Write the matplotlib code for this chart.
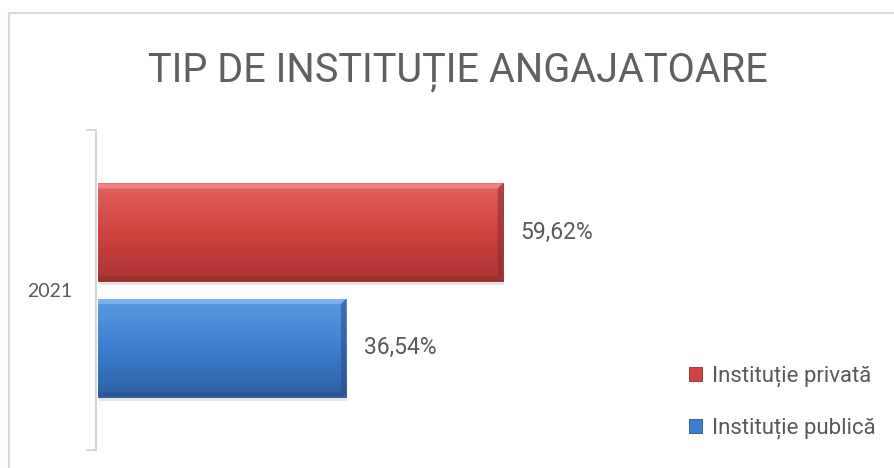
import matplotlib
matplotlib.use('Agg')
import matplotlib.pyplot as plt
import numpy as np
from matplotlib.patches import Rectangle, Polygon
from matplotlib.colors import LinearSegmentedColormap

# data
categories = ['2021']
series = ['Instituție privată', 'Instituție publică']
values = [59.62, 36.54]
value_labels = ['59,62%', '36,54%']

colors = ['#cf4340', '#3d7ecf']
grad = [['#e0625e', '#cf4340', '#ab3533'], ['#5a9ae3', '#3d7ecf', '#2e61a4']]
edge_dark = ['#8e2b2a', '#274e86']
edge_light = ['#ee8c88', '#86b8ee']

text_col = '#595959'
W, H = 894, 468

fig = plt.figure(figsize=(W / 100, H / 100), dpi=100)
ax = fig.add_axes([96 / W, 1 - 450 / H, 543 / W, 320 / H])

xmax = 80
bar_h = 0.305
gap = 0.056
offsets = [(bar_h + gap) / 2, -(bar_h + gap) / 2]

px_x = (543 / xmax)          # pixels per value unit
px_y = 320                   # pixels per category unit
bx, by = 5 / px_x, 5 / px_y

bars = []
for i, (name, v) in enumerate(zip(series, values)):
    y = 0 + offsets[i]
    b = ax.barh(y, v, height=bar_h, left=0.3, color=colors[i], label=name,
                edgecolor=edge_dark[i], linewidth=0.6, zorder=3)
    bars.append(b)
    r = b[0]
    x0, y0 = r.get_x(), r.get_y()
    x1, y1 = x0 + r.get_width(), y0 + r.get_height()
    # shadow
    ax.add_patch(Rectangle((x0 + 1 / px_x, y0 - 4 / px_y), r.get_width(), r.get_height(),
                           color='black', alpha=0.10, lw=0, zorder=2))
    # vertical gradient
    cmap = LinearSegmentedColormap.from_list('g%d' % i, grad[i][::-1])
    g = np.linspace(0, 1, 64).reshape(-1, 1)
    im = ax.imshow(g, cmap=cmap, aspect='auto', origin='lower',
                   extent=[x0, x1, y0, y1], zorder=4, interpolation='bicubic')
    im.set_clip_path(r)
    # bevels
    ax.add_patch(Polygon([(x0, y1), (x1, y1), (x1 - bx, y1 - by), (x0, y1 - by)],
                         closed=True, color=edge_light[i], alpha=0.8, lw=0, zorder=5))
    ax.add_patch(Polygon([(x1, y1), (x1, y0), (x1 - bx, y0 + by), (x1 - bx, y1 - by)],
                         closed=True, color=edge_dark[i], alpha=0.55, lw=0, zorder=5))
    ax.add_patch(Polygon([(x0, y0), (x1, y0), (x1 - bx, y0 + by), (x0, y0 + by)],
                         closed=True, color=edge_dark[i], alpha=0.45, lw=0, zorder=5))
    ax.text(x1 + 18 / px_x, y, value_labels[i], va='center', ha='left',
            fontsize=16.5, color=text_col, family='Roboto')

ax.set_xlim(0, xmax)
ax.set_ylim(-0.5, 0.5)

for s in ['top', 'right', 'bottom']:
    ax.spines[s].set_visible(False)
ax.spines['left'].set_color('#d4d4d4')
ax.spines['left'].set_linewidth(1.3)
ax.set_xticks([])
ax.set_yticks([0])
ax.set_yticklabels(categories, fontsize=14, color=text_col, family='Lato')
ax.tick_params(axis='y', which='major', length=0, pad=17)
ax.set_yticks([-0.5, 0.5], minor=True)
ax.tick_params(axis='y', which='minor', length=7, color='#d4d4d4', width=1.3)

fig.text(458 / W, 1 - 82 / H, 'TIP DE INSTITUȚIE ANGAJATOARE', ha='center', va='baseline',
         fontsize=28.5, color='#606060', family='Roboto')

leg = ax.legend(handles=[b for b in bars], loc='upper left',
                bbox_to_anchor=(689 / W, 1 - 366 / H), bbox_transform=fig.transFigure,
                frameon=False, borderpad=0, borderaxespad=0, handlelength=0.57,
                handleheight=0.57, handletextpad=0.48, labelspacing=1.38,
                prop={'family': 'Roboto', 'size': 16})
for t in leg.get_texts():
    t.set_color(text_col)

fig.patches.append(Rectangle((8.5 / W, -0.05), 1.1, 1 - 12.5 / H + 0.05,
                             transform=fig.transFigure, fill=False,
                             edgecolor='#d9d9d9', lw=1.5, zorder=0))

fig.savefig('out.png', dpi=100)
